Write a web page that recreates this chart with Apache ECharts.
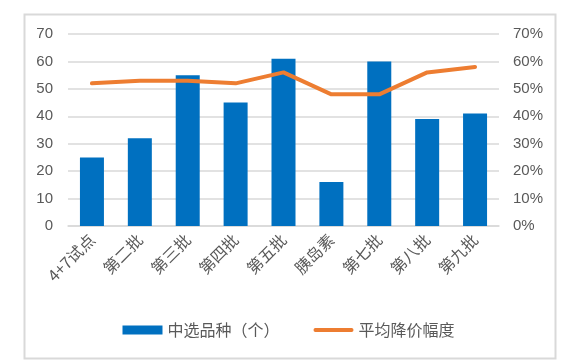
<!DOCTYPE html>
<html><head><meta charset="utf-8">
<script src="https://cdn.jsdelivr.net/npm/echarts@6/dist/echarts.min.js"></script>
<style>html,body{margin:0;padding:0;background:#fff}#c{width:577px;height:364px}</style>
</head><body><div id="c"></div>
<script>
const categories = ['4+7试点','第二批','第三批','第四批','第五批','胰岛素','第七批','第八批','第九批'];
const selectedCounts = [25, 32, 55, 45, 61, 16, 60, 39, 41];
const avgCutPct = [52, 53, 53, 52, 56, 48, 48, 56, 58];
const leftTicks = [0, 10, 20, 30, 40, 50, 60, 70];
const rightTicks = [0, 10, 20, 30, 40, 50, 60, 70];
const barName = '中选品种（个）';
const lineName = '平均降价幅度';

const chart = echarts.init(document.getElementById('c'), null, {renderer: 'canvas'});
const font = '"Liberation Sans", "Noto Sans CJK SC", sans-serif';
const cjk = '"Noto Sans CJK SC", "Liberation Sans", sans-serif';
chart.setOption({
  animation: false,
  backgroundColor: '#fff',
  graphic: [{
    type: 'rect', left: 22, top: 12, z: -1,
    shape: {width: 531, height: 344},
    style: {fill: 'none', stroke: '#d9d9d9', lineWidth: 2}
  }],
  grid: {left: 68, right: 78, top: 34, bottom: 138},
  legend: {
    top: 317, left: 'center', itemGap: 34, itemWidth: 40, itemHeight: 9,
    textStyle: {color: '#595959', fontSize: 16, fontFamily: cjk},
    data: [
      {name: barName, icon: 'rect'},
      {name: lineName, icon: 'path://M2,0 L40,0 A2,2 0 0 1 40,4 L2,4 A2,2 0 0 1 2,0 Z'}
    ]
  },
  xAxis: {
    type: 'category', data: categories,
    axisLine: {lineStyle: {color: '#d9d9d9', width: 1.5}},
    axisTick: {show: false},
    axisLabel: {rotate: 45, color: '#595959', fontSize: 16, fontFamily: cjk, margin: 11, interval: 0}
  },
  yAxis: [{
    type: 'value', min: leftTicks[0], max: leftTicks[leftTicks.length - 1], interval: 10,
    axisLine: {show: false}, axisTick: {show: false},
    splitLine: {lineStyle: {color: '#d9d9d9', width: 1.5}},
    axisLabel: {color: '#595959', fontSize: 15, fontFamily: font, margin: 15}
  }, {
    type: 'value', min: rightTicks[0], max: rightTicks[rightTicks.length - 1], interval: 10,
    axisLine: {show: false}, axisTick: {show: false}, splitLine: {show: false},
    axisLabel: {color: '#595959', fontSize: 15, fontFamily: font, margin: 14, formatter: v => v + '%'}
  }],
  series: [{
    name: barName, type: 'bar', data: selectedCounts, yAxisIndex: 0,
    barWidth: 24, itemStyle: {color: '#0070C0'}
  }, {
    name: lineName, type: 'line', data: avgCutPct, yAxisIndex: 1,
    symbol: 'none', lineStyle: {color: '#ED7D31', width: 4, cap: 'round', join: 'round'},
    itemStyle: {color: '#ED7D31'}
  }]
});
</script></body></html>
